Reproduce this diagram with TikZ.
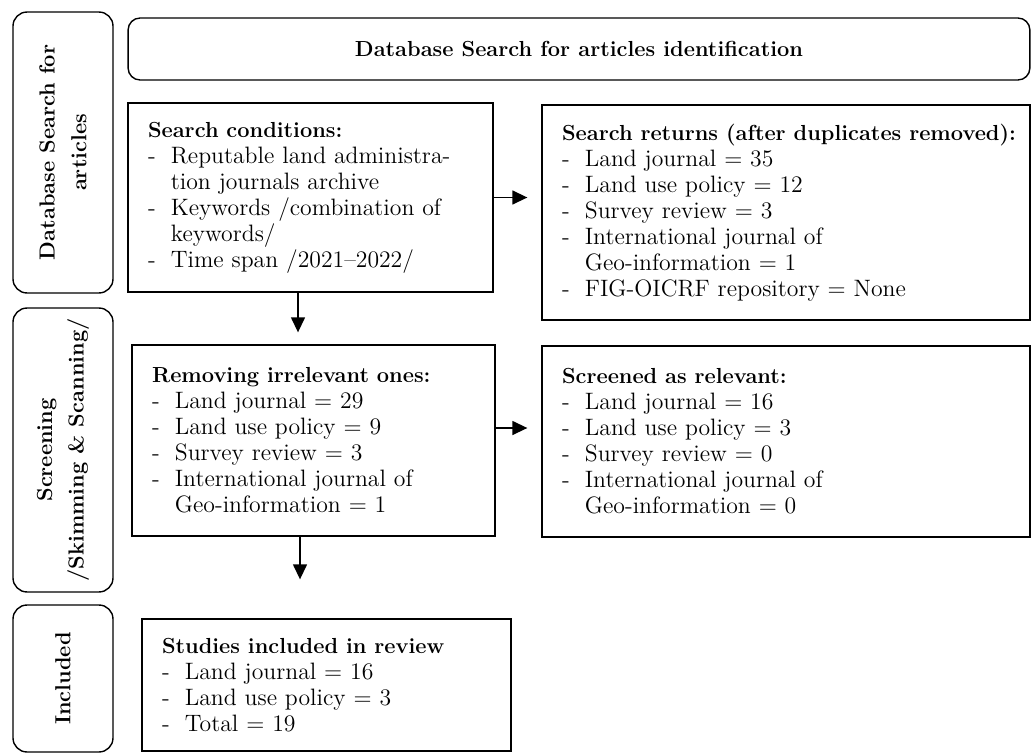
\documentclass[tikz,border=0pt]{standalone}
\usetikzlibrary{arrows.meta}
\newcommand{\bul}{\makebox[13pt][l]{-}}
\newcommand{\cnt}{\hspace*{13pt}}
\newcommand{\hd}[1]{\mbox{\fontsize{12.4}{14.8}\selectfont\textbf{#1}}}
\begin{document}
\begin{tikzpicture}[x=0.02cm, y=-0.02cm,
   every node/.style={font=\fontsize{13.5}{14.8}\selectfont},
   stage/.style={draw, line width=0.8pt, rounded corners=0.28cm, rotate=90,
      minimum height=2cm, align=center, font=\fontsize{12.4}{18}\selectfont\bfseries},
   box/.style={draw, line width=0.8pt, inner xsep=0.4cm, align=left},
   arr/.style={line width=0.8pt, -{Triangle[length=0.3cm,width=0.28cm]}}]
   \useasboundingbox (0,0) rectangle (1032,754);
   % stage labels
   \node[stage, minimum width=5.62cm] (lab1) at (63,152.5) {Database Search for\\articles};
   \node[stage, minimum width=5.68cm] (lab2) at (63,450) {Screening\\/Skimming \& Scanning/};
   \node[stage, minimum width=2.94cm] (lab3) at (63,678.5) {Included};
   \node[draw, line width=0.8pt, rounded corners=0.24cm, minimum width=18.04cm,
      minimum height=1.24cm, font=\fontsize{12.4}{14.8}\selectfont\bfseries] (top) at (579,49)
      {Database Search for articles identification};
   % boxes
   \node[box, text width=6.5cm, minimum height=3.78cm] (cond) at (310.5,197.5)
      {\hd{Search conditions:}\\ \bul Reputable land administra-\\ \cnt tion journals archive\\
       \bul Keywords /combination of\\ \cnt keywords/\\ \bul Time span /2021--2022/};
   \node[box, text width=8.96cm, minimum height=4.3cm] (ret) at (786,212.5)
      {\hd{Search returns (after duplicates removed):}\\ \bul Land journal = 35\\
       \bul Land use policy = 12\\ \bul Survey review = 3\\ \bul International journal of\\
       \cnt Geo-information = 1\\ \bul FIG-OICRF repository = None};
   \node[box, text width=6.46cm, minimum height=3.82cm] (rem) at (313.5,440.5)
      {\hd{Removing irrelevant ones:}\\ \bul Land journal = 29\\ \bul Land use policy = 9\\
       \bul Survey review = 3\\ \bul International journal of\\ \cnt Geo-information = 1};
   \node[box, text width=8.96cm, minimum height=3.82cm] (scr) at (786,441.5)
      {\hd{Screened as relevant:}\\ \bul Land journal = 16\\ \bul Land use policy = 3\\
       \bul Survey review = 0\\ \bul International journal of\\ \cnt Geo-information = 0};
   \node[box, text width=6.58cm, minimum height=2.64cm] (inc) at (326.5,685)
      {\hd{Studies included in review}\\ \bul Land journal = 16\\ \bul Land use policy = 3\\
       \bul Total = 19};
   % arrows
   \draw[arr, shorten >=0.28cm] (cond.east) -- (cond.east -| ret.west);
   \draw[arr, shorten >=0.28cm] ([yshift=0.25cm]rem.east) -- ([yshift=0.25cm]rem.east -| scr.west);
   \draw[arr, shorten >=0.24cm] ([xshift=-0.25cm]cond.south) -- ([xshift=-0.25cm]cond.south |- rem.north);
   \draw[arr, shorten >=0.78cm] ([xshift=-0.27cm]rem.south) -- ([xshift=-0.27cm]rem.south |- inc.north);
\end{tikzpicture}
\end{document}
